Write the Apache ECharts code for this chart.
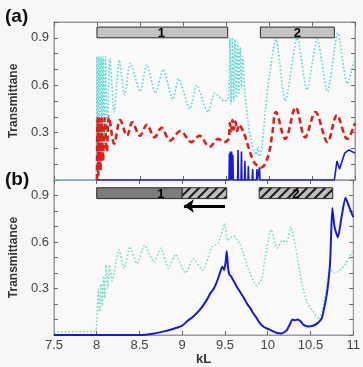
<!DOCTYPE html>
<html>
<head>
<meta charset="utf-8">
<script src="https://cdn.jsdelivr.net/npm/echarts@6/dist/echarts.min.js"></script>
<style>
html,body{margin:0;padding:0;background:#f7f7f7}
#main{width:363px;height:367px}
</style>
</head>
<body>
<div id="main"></div>
<script>
// panel (a) curves, [kL, T]
var cyanA = [[7.5,0],[7.99,0],[8.0,0.78],[8.012,0.05],[8.024,0.78],[8.036,0.08],[8.048,0.78],[8.06,0.12],[8.072,0.78],[8.086,0.2],[8.10,0.78],[8.12,0.3],[8.15,0.77],[8.20,0.43],[8.26,0.76],[8.32,0.54],[8.39,0.74],[8.50,0.56],[8.58,0.73],[8.68,0.55],[8.77,0.70],[8.88,0.51],[8.95,0.64],[9.08,0.45],[9.16,0.60],[9.29,0.43],[9.37,0.55],[9.48,0.50],[9.53,0.52],[9.545,0.9],[9.56,0.48],[9.575,0.9],[9.59,0.5],[9.605,0.89],[9.62,0.52],[9.635,0.87],[9.65,0.55],[9.665,0.84],[9.68,0.58],[9.695,0.78],[9.72,0.55],[9.75,0.40],[9.78,0.28],[9.82,0.19],[9.85,0.16],[9.87,0.21],[9.89,0.15],[9.92,0.22],[9.96,0.45],[10.01,0.68],[10.08,0.89],[10.19,0.50],[10.33,0.90],[10.44,0.57],[10.56,0.89],[10.68,0.56],[10.80,0.93],[10.91,0.61],[11.0,0.78]];
var redA = [[8.0,0.0],[8.006,0.39],[8.016,0.03],[8.028,0.39],[8.04,0.06],[8.055,0.39],[8.07,0.12],[8.09,0.39],[8.115,0.18],[8.14,0.40],[8.20,0.23],[8.27,0.38],[8.35,0.28],[8.41,0.365],[8.50,0.28],[8.58,0.35],[8.67,0.27],[8.75,0.33],[8.85,0.25],[8.97,0.31],[9.10,0.24],[9.19,0.28],[9.31,0.21],[9.41,0.26],[9.48,0.24],[9.53,0.26],[9.545,0.36],[9.56,0.31],[9.575,0.38],[9.59,0.32],[9.61,0.37],[9.63,0.31],[9.65,0.35],[9.68,0.33],[9.72,0.28],[9.76,0.21],[9.83,0.11],[9.91,0.08],[9.99,0.15],[10.04,0.30],[10.08,0.43],[10.19,0.26],[10.31,0.46],[10.42,0.27],[10.54,0.43],[10.68,0.24],[10.79,0.41],[10.91,0.26],[11.0,0.36]];
var blueA = [[8.0,0],[9.535,0],[9.54,0.17],[9.545,0],[9.553,0.18],[9.558,0],[9.566,0.18],[9.571,0],[9.58,0.16],[9.585,0],[9.635,0],[9.64,0.19],[9.645,0],[9.675,0],[9.68,0.18],[9.685,0],[9.715,0],[9.72,0.12],[9.725,0],[9.755,0],[9.76,0.09],[9.765,0],[9.805,0],[9.81,0.07],[9.815,0],[9.855,0],[9.86,0.07],[9.865,0],[9.885,0],[9.89,0.08],[9.895,0],[10.76,0],[10.79,0.12],[10.82,0.07],[10.88,0.17],[10.93,0.19],[11.0,0.17]];

// panel (b) curves
var cyanB = [[7.5,0.02],[7.98,0.025],[8.0,0.07],[8.02,0.30],[8.035,0.15],[8.05,0.33],[8.065,0.19],[8.08,0.38],[8.095,0.24],[8.11,0.45],[8.13,0.30],[8.15,0.45],[8.18,0.35],[8.26,0.55],[8.32,0.43],[8.39,0.57],[8.47,0.46],[8.56,0.58],[8.67,0.47],[8.75,0.56],[8.84,0.43],[8.92,0.52],[9.04,0.40],[9.13,0.49],[9.24,0.42],[9.35,0.57],[9.42,0.59],[9.50,0.72],[9.53,0.61],[9.60,0.64],[9.68,0.58],[9.77,0.43],[9.87,0.32],[9.93,0.36],[9.97,0.50],[10.04,0.68],[10.11,0.56],[10.17,0.61],[10.22,0.60],[10.27,0.70],[10.33,0.55],[10.40,0.33],[10.46,0.21],[10.52,0.16],[10.60,0.10],[10.68,0.27],[10.73,0.43],[10.77,0.40],[10.83,0.41],[10.91,0.46],[11.0,0.55]];
var blueB = [[7.5,0],[8.5,0],[8.67,0.01],[8.80,0.025],[8.90,0.04],[9.0,0.06],[9.06,0.09],[9.13,0.12],[9.21,0.165],[9.28,0.22],[9.33,0.27],[9.37,0.30],[9.41,0.35],[9.44,0.40],[9.47,0.44],[9.49,0.42],[9.51,0.48],[9.52,0.54],[9.535,0.44],[9.55,0.39],[9.57,0.38],[9.60,0.35],[9.64,0.31],[9.68,0.275],[9.72,0.24],[9.76,0.20],[9.80,0.17],[9.83,0.14],[9.87,0.11],[9.91,0.075],[9.96,0.05],[10.02,0.035],[10.10,0.015],[10.16,0.01],[10.22,0.03],[10.26,0.07],[10.29,0.10],[10.32,0.095],[10.35,0.10],[10.38,0.09],[10.42,0.065],[10.47,0.055],[10.53,0.06],[10.58,0.075],[10.63,0.105],[10.67,0.20],[10.70,0.30],[10.73,0.475],[10.755,0.82],[10.78,0.70],[10.82,0.63],[10.86,0.75],[10.91,0.885],[10.95,0.83],[11.0,0.76]];

// region bars: [from, to, kind]  kind 0 = light, 1 = dark, 2 = hatched
var barsA = [[8.0, 9.52, 0], [9.9, 10.76, 0]];
var barsB = [[8.0, 9.0, 1], [9.0, 9.52, 2], [9.9, 10.76, 2]];
var barLabels = [[8.75, '1'], [10.33, '2']];
var arrowB = [9.5, 9.02];

var yTickLabels = ['0.3', '0.6', '0.9'];

var chart = echarts.init(document.getElementById('main'));

// hatch fill
var hc = document.createElement('canvas');
hc.width = 9; hc.height = 9;
var hctx = hc.getContext('2d');
hctx.fillStyle = '#bcbcbc';
hctx.fillRect(0, 0, 9, 9);
hctx.strokeStyle = '#1a1a1a';
hctx.lineWidth = 2;
hctx.beginPath();
hctx.moveTo(0, 9); hctx.lineTo(9, 0);
hctx.moveTo(-3, 3); hctx.lineTo(3, -3);
hctx.moveTo(6, 12); hctx.lineTo(12, 6);
hctx.stroke();
var hatch = {image: hc, repeat: 'repeat'};

function barSeries(data, xi, yi, lo, hi) {
	return {
		type: 'custom', xAxisIndex: xi, yAxisIndex: yi, silent: true, z: 5,
		data: data,
		renderItem: function (params, api) {
			var kind = api.value(2);
			var p0 = api.coord([api.value(0), hi]);
			var p1 = api.coord([api.value(1), lo]);
			var fill = kind == 0 ? '#c3c3c3' : (kind == 1 ? '#7c7c7c' : hatch);
			return {type: 'rect', shape: {x: p0[0], y: p0[1], width: p1[0] - p0[0], height: p1[1] - p0[1]},
				style: {fill: fill, stroke: '#2a2a2a', lineWidth: 1}};
		}
	};
}
function labelSeries(xi, yi, mid) {
	return {
		type: 'custom', xAxisIndex: xi, yAxisIndex: yi, silent: true, z: 6,
		data: barLabels,
		renderItem: function (params, api) {
			var p = api.coord([api.value(0), mid]);
			return {type: 'text', x: p[0], y: p[1] + 1,
				style: {text: barLabels[params.dataIndex][1], fill: '#000', font: 'bold 13px "Liberation Sans", Arial',
					align: 'center', verticalAlign: 'middle'}};
		}
	};
}

var frame = '#9a9a9a';
function xAx(grid, pos, labels) {
	return {type: 'value', gridIndex: grid, position: pos, min: 7.5, max: 11, interval: 0.5,
		axisLine: {show: true, onZero: false, lineStyle: {color: frame}},
		axisTick: {show: true, inside: true, length: 4, lineStyle: {color: '#666'}},
		axisLabel: {show: labels, margin: 4, color: '#444', fontSize: 13, fontFamily: '"Liberation Sans", Arial'},
		splitLine: {show: false},
		name: labels ? 'kL' : '', nameLocation: 'middle', nameGap: 18,
		nameTextStyle: {fontWeight: 'bold', fontSize: 13, color: '#333', fontFamily: '"Liberation Sans", Arial'}};
}
function yAx(grid, pos, name) {
	return {type: 'value', gridIndex: grid, position: pos, min: 0, max: 1, interval: 0.1,
		axisLine: {show: true, onZero: false, lineStyle: {color: frame}},
		axisTick: {show: true, inside: true, length: 4, lineStyle: {color: '#666'}},
		axisLabel: {show: !!name, margin: 5, color: '#444', fontSize: 13, fontFamily: '"Liberation Sans", Arial',
			formatter: function (v) {
				var s = v.toFixed(1);
				return yTickLabels.indexOf(s) >= 0 ? s : '';
			}},
		splitLine: {show: false},
		name: name || '', nameLocation: 'middle', nameGap: 28,
		nameTextStyle: {fontWeight: 'bold', fontSize: 12, color: '#333', fontFamily: '"Liberation Sans", Arial'}};
}

var option = {
	animation: false,
	backgroundColor: '#f7f7f7',
	title: [
		{text: '(a)', left: 0, top: 2, textStyle: {fontSize: 19, fontWeight: 'bold', color: '#111', fontFamily: '"Liberation Sans", Arial'}},
		{text: '(b)', left: 0, top: 165, textStyle: {fontSize: 19, fontWeight: 'bold', color: '#111', fontFamily: '"Liberation Sans", Arial'}}
	],
	grid: [
		{left: 51, top: 22, right: 8, height: 158, show: true, backgroundColor: '#f9f9f9', borderColor: frame},
		{left: 51, top: 180, right: 8, height: 159, show: true, backgroundColor: '#f9f9f9', borderColor: frame}
	],
	xAxis: [xAx(0, 'bottom', false), xAx(0, 'top', false), xAx(1, 'bottom', true), xAx(1, 'top', false)],
	yAxis: [yAx(0, 'left', 'Transmittane'), yAx(0, 'right'), yAx(1, 'left', 'Transmittance'), yAx(1, 'right')],
	series: [
		{type: 'line', xAxisIndex: 0, yAxisIndex: 0, data: cyanA, showSymbol: false, smooth: 0.25,
			lineStyle: {color: '#5cd6d2', width: 1.6, type: [1.6, 2]}},
		{type: 'line', xAxisIndex: 0, yAxisIndex: 0, data: redA, showSymbol: false, smooth: 0.35,
			lineStyle: {color: '#dd1f1a', width: 2.6, type: [6, 3.5]}},
		{type: 'line', xAxisIndex: 0, yAxisIndex: 0, data: blueA, showSymbol: false,
			lineStyle: {color: '#1a1ad0', width: 1.6}},
		barSeries(barsA, 0, 0, 0.9, 0.968),
		labelSeries(0, 0, 0.934),
		{type: 'line', xAxisIndex: 2, yAxisIndex: 2, data: cyanB, showSymbol: false, smooth: 0.2,
			lineStyle: {color: '#76dcc8', width: 1.6, type: [1.6, 2]},
			markLine: {silent: true, symbol: ['none', 'arrow'], symbolSize: [10, 10],
				label: {show: false},
				lineStyle: {color: '#000', width: 3, type: 'solid'},
				data: [[{coord: [arrowB[0], 0.832]}, {coord: [arrowB[1], 0.832]}]]}},
		{type: 'line', xAxisIndex: 2, yAxisIndex: 2, data: blueB, showSymbol: false, smooth: 0.2,
			lineStyle: {color: '#1a1ac8', width: 2}},
		barSeries(barsB, 2, 2, 0.88, 0.95),
		labelSeries(2, 2, 0.915)
	]
};
chart.setOption(option);
</script>
</body>
</html>
